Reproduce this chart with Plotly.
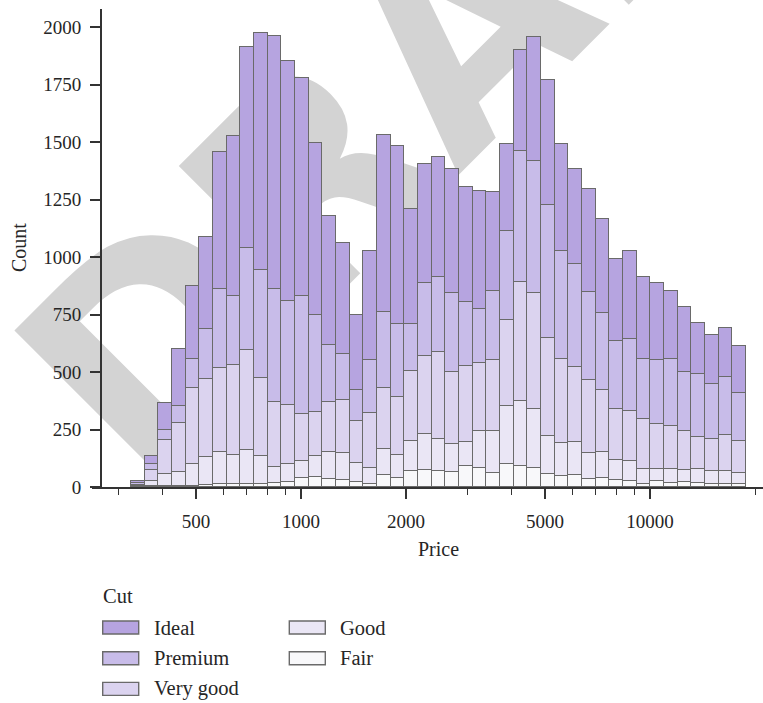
import numpy as np
import plotly.graph_objects as go

# Diamond prices, log-spaced histogram bins
price_min = 326
price_max = 18823
n_bins = 45

cuts = ["Ideal", "Premium", "Very good", "Good", "Fair"]
colors = {
    "Ideal": "#b6a4e0",
    "Premium": "#c8bce9",
    "Very good": "#dbd3ef",
    "Good": "#eae6f5",
    "Fair": "#f8f8fa",
}

# Counts per bin for each cut
fair = [0, 3, 4, 5, 5, 7, 11, 13, 14, 14, 17, 20, 37, 42, 33, 29, 21, 14, 51, 41, 71, 75, 69,
        66, 90, 83, 63, 99, 90, 83, 55, 49, 52, 33, 38, 29, 26, 14, 26, 19, 22, 19, 14, 12, 12]
good = [3, 24, 52, 62, 95, 122, 140, 128, 145, 122, 69, 80, 75, 91, 118, 119, 83, 69, 113, 96,
        129, 157, 139, 122, 105, 160, 180, 253, 282, 258, 165, 144, 145, 116, 114, 90, 86, 63,
        52, 59, 50, 59, 56, 58, 50]
very_good = [5, 46, 150, 212, 329, 342, 365, 388, 438, 338, 284, 257, 204, 195, 219, 229, 183,
             240, 268, 253, 305, 338, 380, 312, 330, 295, 308, 373, 519, 504, 426, 365, 325,
             318, 268, 222, 218, 217, 197, 186, 171, 139, 137, 156, 138]
premium = [9, 25, 42, 72, 127, 215, 345, 303, 441, 468, 491, 452, 513, 418, 246, 201, 135, 229,
           329, 320, 205, 319, 324, 343, 280, 235, 301, 390, 568, 572, 580, 468, 449, 381, 337,
           294, 313, 263, 276, 294, 258, 274, 242, 252, 210]
ideal = [11, 36, 117, 249, 316, 399, 596, 694, 873, 1033, 1098, 1042, 948, 750, 564, 483, 327,
         474, 771, 773, 500, 516, 524, 541, 499, 514, 432, 376, 442, 540, 545, 467, 412, 446,
         410, 355, 382, 356, 336, 294, 282, 222, 210, 215, 204]

counts = {"Ideal": ideal, "Premium": premium, "Very good": very_good, "Good": good, "Fair": fair}

y_ticks = [0, 250, 500, 750, 1000, 1250, 1500, 1750, 2000]
x_major = [500, 1000, 2000, 5000, 10000]
x_minor = [300, 400, 600, 700, 800, 900, 3000, 4000, 6000, 7000, 8000, 9000, 20000]

edges = np.logspace(np.log10(price_min), np.log10(price_max), n_bins + 1)
centers = (edges[:-1] + edges[1:]) / 2
widths = np.diff(edges)

# page geometry (pixels)
FIG_W, FIG_H = 763, 703
L, R, T, B = 92, 763, 9, 487
PW, PH = R - L, B - T
PX_PER_DECADE = 349.0
X_AT_1000 = 301.0
PX_PER_COUNT = 0.23


def px(x):
    return (x - L) / PW


def py(y):
    return (B - y) / PH


SERIF = "Liberation Serif"
TEXT = "#262626"
AXIS = "#333333"
EDGE = "#6a6a6a"

fig = go.Figure()

# stacked from the bottom: Fair first, Ideal on top
for cut in reversed(cuts):
    fig.add_trace(go.Bar(
        x=centers,
        y=counts[cut],
        width=widths,
        name=cut,
        marker=dict(color=colors[cut], line=dict(color=EDGE, width=1.5)),
        showlegend=False,
    ))

x_lo = 3 + (L - X_AT_1000) / PX_PER_DECADE
x_hi = 3 + (R - X_AT_1000) / PX_PER_DECADE

fig.update_layout(
    width=FIG_W, height=FIG_H,
    margin=dict(l=L, r=FIG_W - R, t=T, b=FIG_H - B, pad=0),
    paper_bgcolor="white",
    plot_bgcolor="rgba(0,0,0,0)",
    barmode="stack",
    bargap=0,
    font=dict(family=SERIF, color=TEXT),
    xaxis=dict(
        type="log",
        range=[x_lo, x_hi],
        showgrid=False, zeroline=False,
        showline=True, linecolor=AXIS, linewidth=1.7,
        tickmode="array", tickvals=x_major, ticktext=[str(v) for v in x_major],
        ticks="outside", ticklen=10, tickwidth=1.5, tickcolor=AXIS,
        tickfont=dict(family=SERIF, size=19, color=TEXT),
        ticklabelstandoff=6,
        minor=dict(tickmode="array", tickvals=x_minor, ticks="outside", ticklen=6,
                   tickwidth=1.4, tickcolor=AXIS, showgrid=False),
    ),
    yaxis=dict(
        range=[0, (B - T) / PX_PER_COUNT],
        anchor="free", position=px(101),
        showgrid=False, zeroline=False,
        showline=True, linecolor=AXIS, linewidth=1.7,
        tickmode="array", tickvals=y_ticks,
        ticks="outside", ticklen=10, tickwidth=1.5, tickcolor=AXIS,
        tickfont=dict(family=SERIF, size=19, color=TEXT),
        ticklabelstandoff=5,
    ),
)

# axis titles
fig.add_annotation(text="Price", xref="paper", yref="paper", x=px(438), y=py(549),
                   showarrow=False, font=dict(family=SERIF, size=20, color=TEXT),
                   xanchor="center", yanchor="middle")
fig.add_annotation(text="Count", xref="paper", yref="paper", x=px(19), y=py(248),
                   showarrow=False, textangle=-90, font=dict(family=SERIF, size=20, color=TEXT),
                   xanchor="center", yanchor="middle")

# legend: title and two columns of swatches
fig.add_annotation(text="Cut", xref="paper", yref="paper", x=px(101), y=py(596),
                   showarrow=False, font=dict(family=SERIF, size=20.5, color=TEXT),
                   xanchor="left", yanchor="middle")
legend_cols = [(102.7, 151.7), (289.3, 338.3)]
legend_rows = [627.5, 658.2, 688.9]
for i, cut in enumerate(cuts):
    col, row = divmod(i, 3)
    sx, tx = legend_cols[col]
    cy = legend_rows[row]
    fig.add_shape(type="rect", xref="paper", yref="paper",
                  x0=px(sx), x1=px(sx + 36), y0=py(cy + 6.5), y1=py(cy - 6.5),
                  fillcolor=colors[cut], line=dict(color=EDGE, width=1.4))
    fig.add_annotation(text=cut, xref="paper", yref="paper", x=px(tx), y=py(cy),
                       showarrow=False, font=dict(family=SERIF, size=20.5, color=TEXT),
                       xanchor="left", yanchor="middle")

# watermark behind the bars
wx, wy = 428, 40
fig.add_shape(type="rect", xref="paper", yref="paper",
              x0=px(wx) - 0.001, x1=px(wx) + 0.001, y0=py(wy) - 0.001, y1=py(wy) + 0.001,
              line=dict(width=0), fillcolor="rgba(0,0,0,0)", layer="below",
              label=dict(text="DRAFT", textangle=-45, textposition="middle center",
                         font=dict(family="DejaVu Sans", size=280, color="#d3d3d3",
                                   weight="bold")))

fig.write_html("out.html")
